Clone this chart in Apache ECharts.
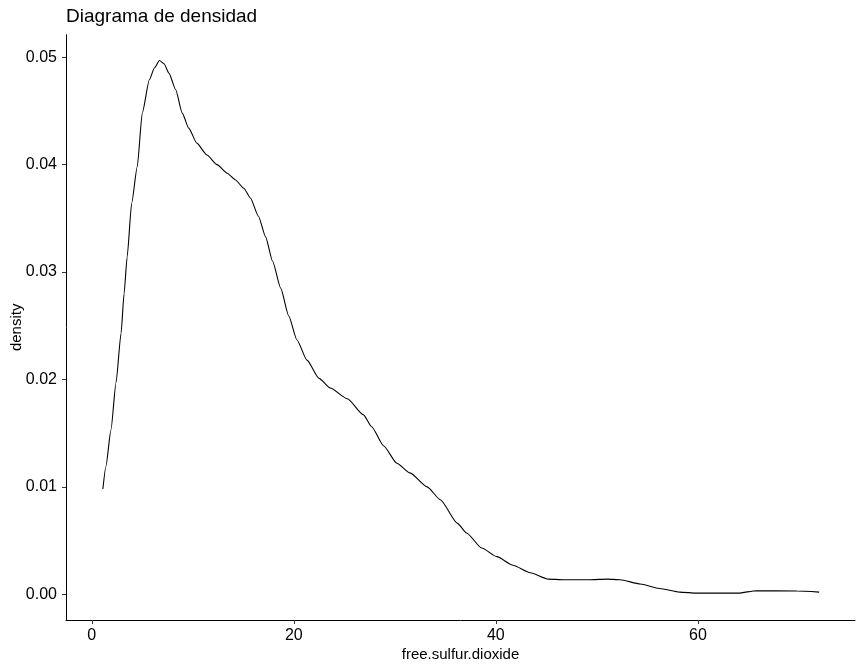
<!DOCTYPE html>
<html>
<head>
<meta charset="utf-8">
<script src="https://cdn.jsdelivr.net/npm/echarts@6/dist/echarts.min.js"></script>
<style>
html,body{margin:0;padding:0;background:#fff;}
#chart{width:864px;height:672px;}
</style>
</head>
<body>
<div id="chart"></div>
<script>
// free.sulfur.dioxide values (x) and estimated density (y)
const xValues = [1.1, 1.4, 1.9, 2.4, 2.9, 3.2, 3.5, 3.95, 4.5, 5.0, 5.7, 6.2, 6.7, 7.15, 7.65, 8.3, 8.96, 9.6, 10.4, 11.4, 12.4, 13.4, 14.2, 15.05, 15.7, 16.5, 17.2, 17.9, 18.7, 19.5, 20.3, 21.3, 22.5, 23.6, 25.3, 26.9, 27.7, 28.9, 30.2, 31.5, 33.2, 34.5, 36.2, 37.1, 38.6, 40.1, 41.7, 43.4, 45.2, 46.7, 49.3, 51.0, 52.3, 54.3, 56.2, 58.2, 59.9, 64.0, 65.8, 69.8, 72.0];
const densityValues = [0.0098, 0.0119, 0.0153, 0.0197, 0.0243, 0.0280, 0.0314, 0.0364, 0.0398, 0.0448, 0.0479, 0.0490, 0.0497, 0.0494, 0.0485, 0.0470, 0.0448, 0.0434, 0.0420, 0.0409, 0.0400, 0.0392, 0.0386, 0.0378, 0.0369, 0.0352, 0.0333, 0.0310, 0.0285, 0.0259, 0.0237, 0.0218, 0.0201, 0.0192, 0.0182, 0.0167, 0.0156, 0.0138, 0.0122, 0.0113, 0.0100, 0.0088, 0.0066, 0.0057, 0.0043, 0.0035, 0.0027, 0.0020, 0.00141, 0.00135, 0.00135, 0.00141, 0.00135, 0.00095, 0.00054, 0.0002, 0.0001, 0.0001, 0.00033, 0.0003, 0.0002];
const xTicks = [0, 20, 40, 60];
const yTicks = [0, 0.01, 0.02, 0.03, 0.04, 0.05];
const titleText = 'Diagrama de densidad';
const xName = 'free.sulfur.dioxide';
const yName = 'density';

const seriesData = xValues.map((x, i) => [x, densityValues[i]]);

const chart = echarts.init(document.getElementById('chart'), null, {renderer: 'canvas'});
const fontFamily = '"Liberation Sans", Arial, sans-serif';
chart.setOption({
  animation: false,
  backgroundColor: '#ffffff',
  title: {
    text: titleText,
    left: 66,
    top: 7,
    padding: 0,
    textStyle: {fontFamily: fontFamily, fontSize: 19, fontWeight: 'normal', color: '#000'}
  },
  grid: {left: 66, right: 9, top: 34.7, bottom: 52, containLabel: false, outerBoundsMode: 'none'},
  xAxis: {
    type: 'value',
    min: -2.55,
    max: 75.55,
    name: xName,
    nameLocation: 'middle',
    nameGap: 27,
    nameMoveOverlap: false,
    nameTextStyle: {fontFamily: fontFamily, fontSize: 15, color: '#000'},
    axisLine: {show: true, onZero: false, lineStyle: {color: '#000', width: 1}},
    axisTick: {show: true, length: 4, customValues: xTicks, lineStyle: {color: '#333', width: 1}},
    axisLabel: {customValues: xTicks, margin: 8, fontFamily: fontFamily, fontSize: 16, color: '#000'},
    splitLine: {show: false}
  },
  yAxis: {
    type: 'value',
    min: -0.0024,
    max: 0.0521,
    name: yName,
    nameLocation: 'middle',
    nameGap: 42,
    nameRotate: 90,
    nameMoveOverlap: false,
    nameTextStyle: {fontFamily: fontFamily, fontSize: 15, color: '#000'},
    axisLine: {show: true, onZero: false, lineStyle: {color: '#000', width: 1}},
    axisTick: {show: true, length: 4, customValues: yTicks, lineStyle: {color: '#333', width: 1}},
    axisLabel: {customValues: yTicks, margin: 9, fontFamily: fontFamily, fontSize: 16, color: '#000',
      formatter: v => v.toFixed(2)},
    splitLine: {show: false}
  },
  series: [{
    type: 'line',
    data: seriesData,
    showSymbol: false,
    smooth: 0.2,
    smoothMonotone: 'x',
    lineStyle: {color: '#000', width: 1.1},
    clip: true
  }]
});
</script>
</body>
</html>
